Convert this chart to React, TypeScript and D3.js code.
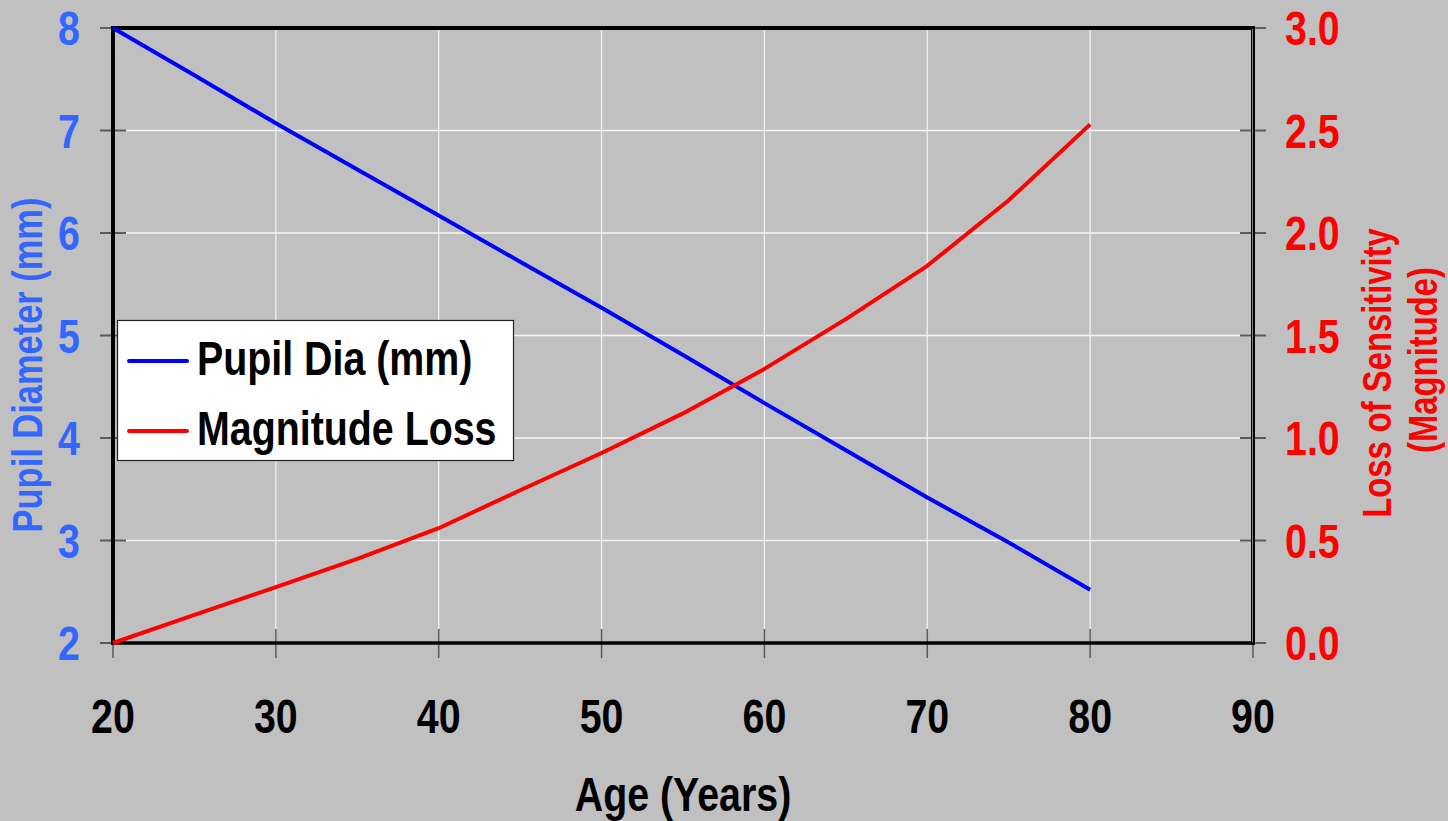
import { line, scaleLinear } from "d3"
import type { ReactNode } from "react"

const W = 1448, H = 821
const ML = 113, MR = 195, MT = 28, MB = 178

const ages = [20, 25, 30, 35, 40, 45, 50, 55, 60, 65, 70, 75, 80]
const pupilDia = [8.0, 7.54, 7.07, 6.62, 6.17, 5.72, 5.27, 4.81, 4.34, 3.88, 3.42, 2.98, 2.52]
const magLoss = [0, 0.137, 0.273, 0.41, 0.56, 0.745, 0.927, 1.12, 1.337, 1.58, 1.84, 2.16, 2.53]

const xTicks = [20, 30, 40, 50, 60, 70, 80, 90]
const leftTicks = [2, 3, 4, 5, 6, 7, 8]
const rightTicks = [0, 0.5, 1, 1.5, 2, 2.5, 3]

const FONT = "'Liberation Sans', Arial, sans-serif"
const BLUE_TXT = "#3366ff"
const NARROW = 0.82 // no narrow font installed, squeeze the regular one

// bold text squeezed horizontally, optional rotation
function NText({ x, y, rot = 0, anchor = "start", size, fill, children }: {
  x: number, y: number, rot?: number, anchor?: "start" | "middle" | "end",
  size: number, fill: string, children: ReactNode
}) {
  return (
    <g transform={`translate(${x},${y}) rotate(${rot}) scale(${NARROW},1)`}>
      <text textAnchor={anchor} fontSize={size} fill={fill}>{children}</text>
    </g>
  )
}

export default function App() {
  const IW = W - ML - MR, IH = H - MT - MB
  const x = scaleLinear().domain([20, 90]).range([0, IW])
  const yL = scaleLinear().domain([2, 8]).range([IH, 0])
  const yR = scaleLinear().domain([0, 3]).range([IH, 0])

  const pupilPath = line<number>().x((_, i) => x(ages[i])).y(d => yL(d))(pupilDia) ?? ""
  const lossPath = line<number>().x((_, i) => x(ages[i])).y(d => yR(d))(magLoss) ?? ""

  return (
    <svg width={W} height={H} style={{ position: "absolute", left: 0, top: 0, display: "block" }}
      fontFamily={FONT} fontWeight="bold">
      <rect width={W} height={H} fill="#c0c0c0" />
      <g transform={`translate(${ML},${MT})`}>
        {/* grid */}
        {xTicks.slice(1, -1).map(t => (
          <line key={"gx" + t} x1={x(t)} x2={x(t)} y1={0} y2={IH} stroke="#f4f4f4" strokeWidth={1.2} />
        ))}
        {leftTicks.slice(1, -1).map(t => (
          <line key={"gy" + t} x1={0} x2={IW} y1={yL(t)} y2={yL(t)} stroke="#f4f4f4" strokeWidth={1.5} />
        ))}

        {/* ticks */}
        {leftTicks.map(t => (
          <line key={"lt" + t} x1={-13} x2={t === 8 ? 0 : 13} y1={yL(t)} y2={yL(t)}
            stroke={t === 8 ? "#000" : "#5a5a5a"} strokeWidth={t === 8 ? 1 : 2} />
        ))}
        {rightTicks.map(t => (
          <line key={"rt" + t} x1={t === 3 ? IW : IW - 13} x2={IW + 13} y1={yR(t)} y2={yR(t)}
            stroke={t === 3 ? "#000" : "#5a5a5a"} strokeWidth={t === 3 ? 1 : 2} />
        ))}
        {xTicks.map(t => (
          <line key={"xt" + t} x1={x(t)} x2={x(t)} y1={IH - 14} y2={IH + 15} stroke="#5a5a5a" strokeWidth={1.5} />
        ))}

        {/* frame */}
        <line x1={0} x2={IW} y1={0} y2={0} stroke="#000" strokeWidth={4} />
        <line x1={0} x2={IW} y1={IH} y2={IH} stroke="#000" strokeWidth={3.5} />
        <line x1={0} x2={0} y1={-2} y2={IH + 2} stroke="#000" strokeWidth={4} />
        <line x1={IW} x2={IW} y1={-2} y2={IH + 2} stroke="#000" strokeWidth={4} />
        <line x1={IW - 0.5} x2={IW - 0.5} y1={1} y2={IH - 1} stroke="#888" strokeWidth={1} />

        {/* series */}
        <path d={pupilPath} fill="none" stroke="#0000ff" strokeWidth={4} strokeLinejoin="round" />
        <path d={lossPath} fill="none" stroke="#ff0000" strokeWidth={4} strokeLinejoin="round" />

        {/* tick labels */}
        {leftTicks.map(t => (
          <NText key={"ll" + t} x={-33} y={yL(t) + 17} anchor="end" size={48} fill={BLUE_TXT}>{t}</NText>
        ))}
        {rightTicks.map(t => (
          <NText key={"rl" + t} x={IW + 32} y={yR(t) + 17} size={48} fill="#ff0000">{t.toFixed(1)}</NText>
        ))}
        {xTicks.map(t => (
          <NText key={"xl" + t} x={x(t)} y={IH + 90} anchor="middle" size={48} fill="#000">{t}</NText>
        ))}
      </g>

      {/* axis titles */}
      <NText x={683} y={811} anchor="middle" size={48} fill="#000">Age (Years)</NText>
      <NText x={42} y={365} rot={-90} anchor="middle" size={42} fill={BLUE_TXT}>Pupil Diameter (mm)</NText>
      <NText x={1391} y={373} rot={-90} anchor="middle" size={40} fill="#ff0000">Loss of Sensitivity</NText>
      <NText x={1437} y={360} rot={-90} anchor="middle" size={40} fill="#ff0000">(Magnitude)</NText>

      {/* legend */}
      <rect x={117.5} y={320.5} width={396} height={140} fill="#fff" stroke="#222" strokeWidth={1.2} />
      <line x1={129} x2={187} y1={361} y2={361} stroke="#0000ff" strokeWidth={4} strokeLinecap="round" />
      <NText x={197} y={375} size={48} fill="#000">Pupil Dia (mm)</NText>
      <line x1={129} x2={187} y1={431} y2={431} stroke="#ff0000" strokeWidth={4} strokeLinecap="round" />
      <NText x={197} y={445} size={48} fill="#000">Magnitude Loss</NText>
    </svg>
  )
}
